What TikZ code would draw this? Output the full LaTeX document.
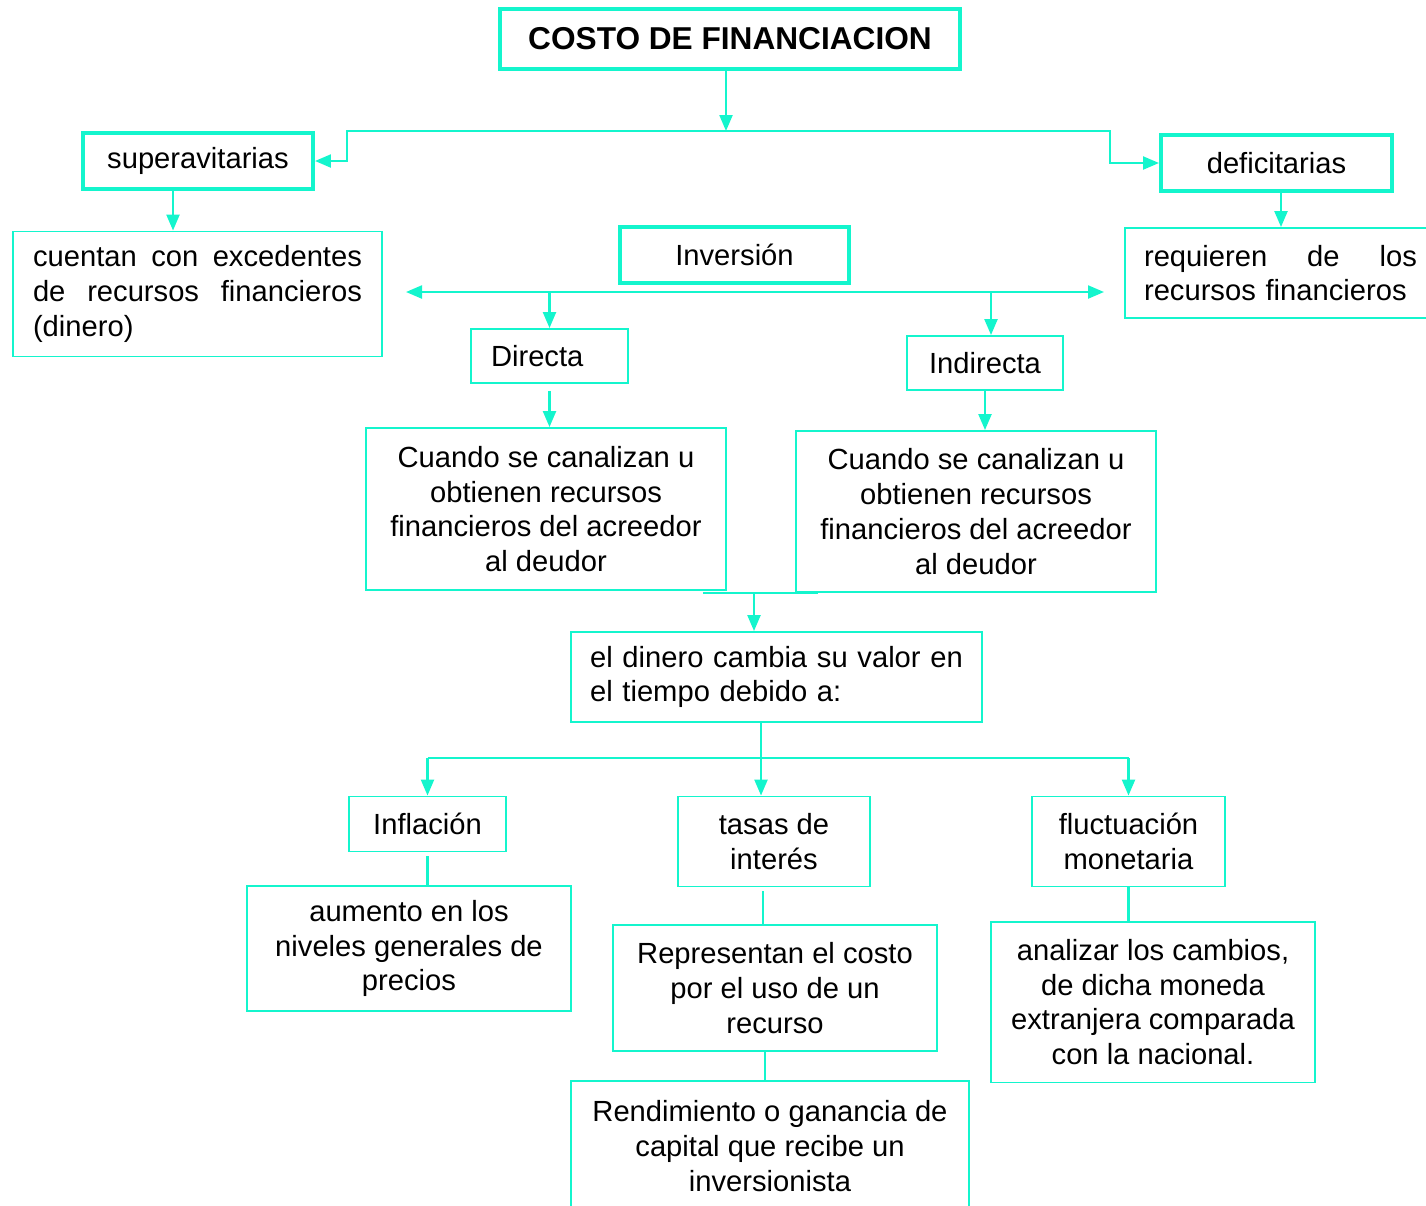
\documentclass[tikz,border=0pt]{standalone}
\usepackage{fontspec}
\setmainfont{Liberation Sans}
\usepackage{tikz}
\usetikzlibrary{arrows.meta}
\definecolor{aqua}{RGB}{20,245,205}
\newcommand{\bodyfont}{\fontsize{16.6pt}{19.8pt}\selectfont}
\tikzset{
    box/.style={draw=aqua, line width=1.1pt, inner sep=0pt, align=center, font=\bodyfont},
    bigbox/.style={box, line width=2.3pt},
    link/.style={draw=aqua, line width=1.3pt},
    >={Triangle[length=0.32cm,width=0.26cm]}
}

\begin{document}
\begin{tikzpicture}[x=0.02cm,y=-0.02cm]
    \useasboundingbox (0,0) rectangle (1426,1205);
    \node[bigbox, minimum width=9.2cm, minimum height=1.2cm, font=\fontsize{18pt}{21pt}\selectfont\bfseries] (cost) at (730,39) {COSTO DE FINANCIACION};
    \node[bigbox, minimum width=4.6cm, minimum height=1.12cm] (sup) at (198,161) {superavitarias};
    \node[bigbox, minimum width=4.62cm, minimum height=1.12cm] (def) at (1276.5,163) {deficitarias};
    \node[box, minimum width=7.38cm, minimum height=2.5cm, text width=6.58cm, align=left] (exc) at (197.5,294)
        {\makebox[6.58cm]{cuentan\hfill con\hfill excedentes}\\ \makebox[6.58cm]{de\hfill recursos\hfill financieros}\\ (dinero)};
    \node[bigbox, minimum width=4.58cm, minimum height=1.12cm] (inv) at (734.5,255) {Inversión};
    \node[box, minimum width=6.22cm, minimum height=1.8cm, text width=5.46cm, align=left] (req) at (1280.5,273)
        {\makebox[5.46cm]{requieren\hfill de\hfill los}\\ recursos financieros};
    \node[box, minimum width=3.14cm, minimum height=1.08cm, text width=2.34cm, align=left] (dir) at (549.5,356) {Directa};
    \node[box, minimum width=3.12cm, minimum height=1.08cm] (ind) at (985,363) {Indirecta};
    \node[box, minimum width=7.2cm, minimum height=3.24cm] (cu1) at (546,509)
        {Cuando se canalizan u\\ obtienen recursos\\ financieros del acreedor\\ al deudor};
    \node[box, minimum width=7.2cm, minimum height=3.22cm] (cu2) at (976,511.5)
        {Cuando se canalizan u\\ obtienen recursos\\ financieros del acreedor\\ al deudor};
    \node[box, minimum width=8.22cm, minimum height=1.8cm, text width=7.46cm, align=left] (din) at (776.5,677)
        {el dinero cambia su valor en\\ el tiempo debido a:};
    \node[box, minimum width=3.14cm, minimum height=1.1cm] (infl) at (427.5,824) {Inflación};
    \node[box, minimum width=3.84cm, minimum height=1.8cm] (tasas) at (774,841.5) {tasas de\\ interés};
    \node[box, minimum width=3.86cm, minimum height=1.8cm] (fluct) at (1128.5,841.5) {fluctuación\\ monetaria};
    \node[box, minimum width=6.48cm, minimum height=2.5cm] (aum) at (409,948.5)
        {aumento en los\\ niveles generales de\\ precios};
    \node[box, minimum width=6.48cm, minimum height=2.52cm] (rep) at (775,988)
        {Representan el costo\\ por el uso de un\\ recurso};
    \node[box, minimum width=6.48cm, minimum height=3.22cm] (anal) at (1153,1002)
        {analizar los cambios,\\ de dicha moneda\\ extranjera comparada\\ con la nacional.};
    \node[box, minimum width=7.96cm, minimum height=2.6cm] (rend) at (770,1146)
        {Rendimiento o ganancia de\\ capital que recibe un\\ inversionista};

    \coordinate (busL) at (383,131);
    \coordinate (busR) at (1063,131);
    \draw[link] (busL) -- (busR);
    \draw[link,->] ([xshift=-0.08cm]cost.south) -- ([xshift=-0.08cm]cost.south |- busL);
    \draw[link,->] (busL) -- ++(-36,0) |- (sup.east);
    \draw[link,->] (busR) -- ++(47,0) |- (def.west);
    \draw[link,->] ([xshift=-0.5cm]sup.south) -- ([xshift=-0.5cm]sup.south |- exc.north);
    \draw[link,->] ([xshift=0.09cm]def.south) -- ([xshift=0.09cm]def.south |- req.north);

    \coordinate (invL) at (406,292);
    \coordinate (invR) at (1104,292);
    \draw[link,<->] (invL) -- (invR);
    \draw[link,->] (dir.north |- invL) -- (dir.north);
    \draw[link,->] ([xshift=0.12cm]ind.north |- invL) -- ([xshift=0.12cm]ind.north);
    \draw[link,->,shorten <=0.14cm] (dir.south) -- (dir.south |- cu1.north);
    \draw[link,->] (ind.south) -- (ind.south |- cu2.north);

    \coordinate (mid) at (754,593);
    \draw[link] (703,593) -- (818,593);
    \draw[link,->] (mid) -- (mid |- din.north);

    \coordinate (split) at (761,758);
    \draw[link] (split |- din.south) -- (split);
    \draw[link] (infl.north |- split) -- (fluct.north |- split);
    \draw[link,->] (infl.north |- split) -- (infl.north);
    \draw[link,->] (split) -- (split |- tasas.north);
    \draw[link,->] (fluct.north |- split) -- (fluct.north);

    \draw[link,shorten <=0.08cm] (infl.south) -- (infl.south |- aum.north);
    \draw[link,shorten <=0.08cm] ([xshift=-0.22cm]tasas.south) -- ([xshift=-0.22cm]tasas.south |- rep.north);
    \draw[link] (fluct.south) -- (fluct.south |- anal.north);
    \draw[link] ([xshift=-0.2cm]rep.south) -- ([xshift=-0.2cm]rep.south |- rend.north);
\end{tikzpicture}
\end{document}
